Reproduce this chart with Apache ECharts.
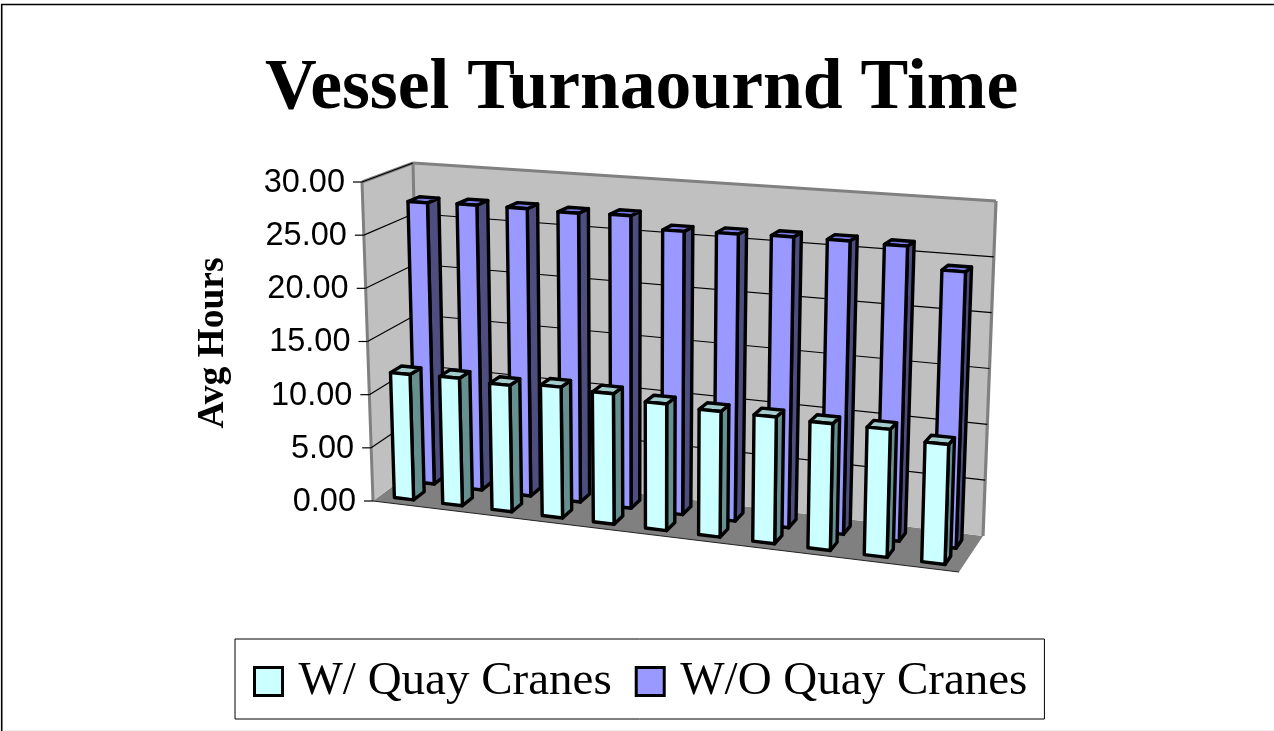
<!DOCTYPE html>
<html lang="en">
<head>
    <meta charset="UTF-8">
    <title>Vessel Turnaournd Time</title>
    <style>
        html, body { margin: 0; padding: 0; background: #fff; }
    </style>
</head>
<body>
<div id="main" style="width: 1274px;height:731px;"></div>
<script src="https://cdn.jsdelivr.net/npm/echarts@6/dist/echarts.min.js"></script>
<script type="text/javascript">
    var categories = ['1', '2', '3', '4', '5', '6', '7', '8', '9', '10', '11'];
    var withCranes = [11.8, 11.9, 11.7, 12.0, 11.85, 11.4, 11.2, 11.2, 11.1, 11.1, 10.3];
    var withoutCranes = [27.1, 27.2, 27.2, 27.1, 27.2, 26.1, 26.2, 26.3, 26.3, 26.2, 24.3];
    var tickValues = [0, 5, 10, 15, 20, 25, 30];
    var tickLabels = ['0.00', '5.00', '10.00', '15.00', '20.00', '25.00', '30.00'];

    // corners of the 3d box on screen: f/b = front/back, l/r = left/right, 0/1 = floor/top
    var box = {
        fl0: [373, 501], fl1: [362, 182],
        fr0: [959, 572], fr1: [970, 219],
        bl0: [420, 466], bl1: [413, 163],
        br0: [983, 536], br1: [996, 201]
    };
    var BAR_FRAC = 0.40;   // bar width as part of a category band
    var SPREAD = 0.90;     // bands get wider towards the right

    function mix(a, b, t) {
        return [a[0] + (b[0] - a[0]) * t, a[1] + (b[1] - a[1]) * t];
    }
    // u along categories, v into the depth, h up the value axis (all 0..1)
    function project(u, v, h) {
        var floor = mix(mix(box.fl0, box.fr0, u), mix(box.bl0, box.br0, u), v);
        var top = mix(mix(box.fl1, box.fr1, u), mix(box.bl1, box.br1, u), v);
        return mix(floor, top, h);
    }
    function spread(u) {
        return SPREAD * u / (1 + (SPREAD - 1) * u);
    }
    function heightOf(api, params, value) {
        var sys = params.coordSys;
        return (sys.y + sys.height - api.coord([0, value])[1]) / sys.height;
    }
    function poly(points, fill, width, color) {
        return {
            type: 'polygon',
            shape: { points: points },
            style: { fill: fill, stroke: color || '#000', lineWidth: width, lineJoin: 'round' }
        };
    }
    function line(a, b, width, color) {
        return {
            type: 'line',
            shape: { x1: a[0], y1: a[1], x2: b[0], y2: b[1] },
            style: { stroke: color, lineWidth: width }
        };
    }

    function renderWalls(params, api) {
        var edge = '#808080';
        return {
            type: 'group',
            children: [
                poly([project(0, 0, 0), project(0, 1, 0), project(1, 1, 0), project(1, 0, 0)], '#808080', 0, 'transparent'),
                poly([project(0, 0, 0), project(0, 0, 1), project(0, 1, 1), project(0, 1, 0)], '#c0c0c0', 0, 'transparent'),
                poly([project(0, 1, 0), project(0, 1, 1), project(1, 1, 1), project(1, 1, 0)], '#c0c0c0', 0, 'transparent'),
                line(project(0, 0, 0), project(0, 0, 1), 3, edge),
                line(project(0, 0, 1), project(0, 1, 1), 3.2, edge),
                line(project(0, 1, 0), project(0, 1, 1), 3, edge),
                line(project(0, 1, 1), project(1, 1, 1), 3.2, edge),
                line(project(1, 1, 1), project(1, 1, 0), 3.2, edge),
                line(project(0, 0, 0), project(1, 0, 0), 1.2, '#222')
            ]
        };
    }

    function renderTick(params, api) {
        var h = heightOf(api, params, api.value(0));
        var a = project(0, 0, h);
        var children = [line([a[0] - 9, a[1]], a, 1.2, '#000')];
        if (h > 0) {
            children.push(line(a, project(0, 1, h), 1.2, '#000'));
            if (h < 1) {
                children.push(line(project(0, 1, h), project(1, 1, h), 1.2, '#000'));
            }
        }
        children.push({
            type: 'text',
            style: {
                x: a[0] - 17, y: a[1] + 1,
                text: tickLabels[params.dataIndex],
                fill: '#000',
                font: '32.5px "Liberation Sans"',
                textAlign: 'right',
                textVerticalAlign: 'middle'
            }
        });
        return { type: 'group', children: children };
    }

    function barRenderer(v0, v1, front, side, top) {
        return function (params, api) {
            var sys = params.coordSys;
            var centre = api.coord([api.value(0), 0])[0];
            var half = api.size([1, 0])[0] * BAR_FRAC / 2;
            var u0 = spread((centre - half - sys.x) / sys.width);
            var u1 = spread((centre + half - sys.x) / sys.width);
            var h = heightOf(api, params, api.value(1));
            return {
                type: 'group',
                children: [
                    poly([project(u1, v0, 0), project(u1, v0, h), project(u1, v1, h), project(u1, v1, 0)], side, 3.4),
                    poly([project(u0, v0, h), project(u0, v1, h), project(u1, v1, h), project(u1, v0, h)], top, 3.4),
                    poly([project(u0, v0, 0), project(u0, v0, h), project(u1, v0, h), project(u1, v0, 0)], front, 3.4)
                ]
            };
        };
    }

    function pairs(values) {
        var out = [];
        for (var i = 0; i < values.length; i++) {
            out.push([i, values[i]]);
        }
        return out;
    }

    var myChart = echarts.init(document.getElementById('main'));
    myChart.setOption({
        animation: false,
        title: {
            text: 'Vessel Turnaournd Time',
            left: 260,
            top: 48,
            textStyle: { fontFamily: 'Liberation Serif', fontWeight: 'bold', fontSize: 71.6, color: '#000' }
        },
        legend: {
            left: 235,
            top: 639,
            padding: [19, 17, 14, 18],
            itemGap: 23,
            itemWidth: 28,
            itemHeight: 28,
            icon: 'rect',
            backgroundColor: '#fff',
            borderColor: '#000',
            borderWidth: 1,
            itemStyle: { borderColor: '#000', borderWidth: 3 },
            textStyle: { fontFamily: 'Liberation Serif', fontSize: 47, color: '#000', padding: [0, 0, 0, 11] },
            data: ['W/ Quay Cranes', 'W/O Quay Cranes']
        },
        grid: { left: 373, top: 182, width: 586, height: 319 },
        xAxis: { type: 'category', data: categories, axisLine: { show: false }, axisTick: { show: false }, axisLabel: { show: false } },
        yAxis: {
            type: 'value',
            min: 0,
            max: 30,
            interval: 5,
            name: 'Avg Hours',
            nameLocation: 'middle',
            nameRotate: 90,
            nameGap: 141,
            nameTextStyle: { fontFamily: 'Liberation Serif', fontWeight: 'bold', fontSize: 37.5, color: '#000', padding: [0, 3, 0, 0] },
            axisLine: { show: false },
            axisTick: { show: false },
            axisLabel: { show: false },
            splitLine: { show: false }
        },
        graphic: [{
            type: 'polyline',
            silent: true,
            z: -10,
            shape: { points: [[1.7, 731], [1.7, 4.5], [1274, 4.5]] },
            style: { fill: 'none', stroke: '#000', lineWidth: 1.6 }
        }, {
            type: 'line',
            silent: true,
            z: -10,
            shape: { x1: 4, y1: 730.5, x2: 1274, y2: 730.5 },
            style: { stroke: '#eeeeee', lineWidth: 1 }
        }],
        series: [
            { type: 'custom', silent: true, z: 1, data: [[0, 0]], renderItem: renderWalls, encode: { x: 0, y: 1 } },
            { type: 'custom', silent: true, z: 2, data: tickValues.map(function (t) { return [t]; }), renderItem: renderTick, encode: { y: 0 } },
            {
                name: 'W/O Quay Cranes', type: 'custom', silent: true, z: 3,
                itemStyle: { color: '#9999ff' },
                data: pairs(withoutCranes), encode: { x: 0, y: 1 },
                renderItem: barRenderer(0.60, 0.83, '#9999ff', '#4d4d80', '#7a7ae0')
            },
            {
                name: 'W/ Quay Cranes', type: 'custom', silent: true, z: 4,
                itemStyle: { color: '#ccffff' },
                data: pairs(withCranes), encode: { x: 0, y: 1 },
                renderItem: barRenderer(0.15, 0.38, '#ccffff', '#668f8f', '#a3cccc')
            }
        ]
    });
</script>
</body>
</html>
